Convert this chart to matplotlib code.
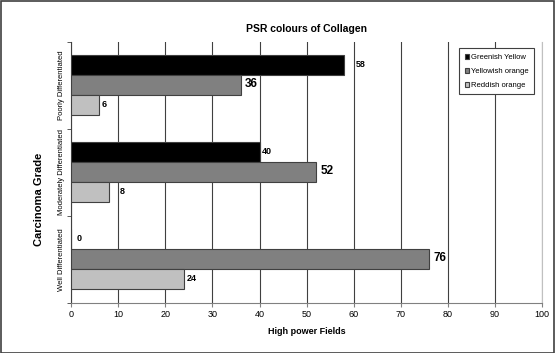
import numpy as np
import matplotlib
matplotlib.use("Agg")
from matplotlib import pyplot as plt

plt.rcParams['font.family'] = ['Liberation Sans', 'DejaVu Sans']

grades = ['Well Differentiated', 'Moderately Differentiated', 'Poorly Differentiated']
series = ['Greenish Yellow', 'Yellowish orange', 'Reddish orange']
greenish = [0, 40, 58]
yellowish = [76, 52, 36]
reddish = [24, 8, 6]
colours = ['#000000', '#808080', '#c0c0c0']
# label font size / offset (points) per series, per grade
lab_size = [[6.5, 6.5, 6.5], [8.5, 8.5, 8.5], [6.5, 6.5, 6.5]]
lab_dx = [[4, 2, 8], [3, 3, 3], [2, 8, 2]]

fig = plt.figure(figsize=(5.55, 3.53), dpi=100)
ax = fig.add_axes([0.128, 0.142, 0.849, 0.739])

y = np.arange(len(grades))
h = 0.23
vals = [greenish, yellowish, reddish]
for i in range(3):
    pos = y + h * (1 - i)
    ax.barh(pos, vals[i], height=h, color=colours[i], edgecolor='#404040',
            linewidth=0.8, label=series[i], zorder=3)
    for j in range(3):
        ax.annotate(str(vals[i][j]), (vals[i][j], pos[j]),
                    xytext=(lab_dx[i][j], 1), textcoords='offset points',
                    va='center', ha='left', fontsize=lab_size[i][j],
                    fontweight='bold')

ax.set_xlim(0, 100)
ax.set_ylim(-0.5, 2.5)
ax.set_xticks(np.arange(0, 101, 10))
ax.set_yticks(y)
ax.set_yticklabels(grades, rotation=90, va='center', fontsize=5.5)
ax.set_yticks([-0.5, 0.5, 1.5, 2.5], minor=True)
ax.tick_params(axis='y', which='major', length=0, pad=4)
ax.tick_params(axis='y', which='minor', length=3, color='#404040')
ax.tick_params(axis='x', labelsize=6.5, length=3, color='#808080', pad=2)
ax.grid(axis='x', color='#404040', linewidth=0.8, zorder=0)
ax.spines['top'].set_visible(False)
ax.spines['right'].set_color('#c0c0c0')
ax.spines['left'].set_color('#404040')
ax.spines['bottom'].set_color('#808080')

ax.set_xlabel('High power Fields', fontsize=6.5, fontweight='bold', labelpad=6)
ax.set_ylabel('Carcinoma Grade', fontsize=8, fontweight='bold')
ax.yaxis.set_label_coords(-0.058, 0.395)
ax.set_title('PSR colours of Collagen', fontsize=7.5, fontweight='bold', pad=7)

leg = ax.legend(loc='upper right', bbox_to_anchor=(0.99, 0.99), fontsize=5.5,
                handlelength=0.6, handleheight=0.6, handletextpad=0.2,
                labelspacing=0.9, borderpad=0.7, fancybox=False,
                edgecolor='#404040', framealpha=1)
leg.get_frame().set_linewidth(0.8)

fig.patches.append(plt.Rectangle((0.001, 0.001), 0.997, 0.996,
                                 transform=fig.transFigure, fill=False,
                                 edgecolor='#404040', linewidth=1.2))

plt.savefig('out.png', dpi=100)
